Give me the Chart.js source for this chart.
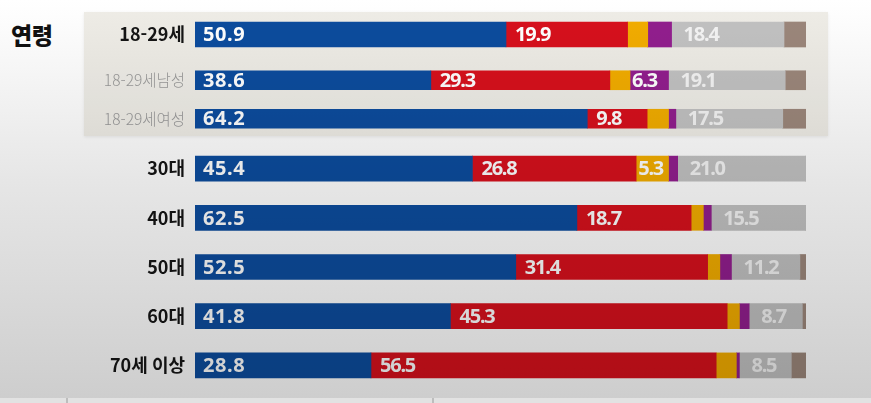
<!DOCTYPE html>
<html lang="ko">
<head>
<meta charset="utf-8">
<script src="https://cdn.jsdelivr.net/npm/chart.js@4.4.1/dist/chart.umd.min.js"></script>
<style>
  html, body { margin: 0; padding: 0; }
  body { width: 871px; height: 403px; overflow: hidden; position: relative; background: #ffffff; }
  #panel { position: absolute; left: 84px; top: 12px; width: 744px; height: 124px;
           background: #efede7; box-shadow: 0 1px 3px rgba(0,0,0,0.08); }
  #title { position: absolute; left: 11px; top: 17px; font-family: "Noto Sans CJK KR", sans-serif;
           font-weight: 900; font-size: 23px; color: #111; letter-spacing: -0.5px; }
  .wrap { position: absolute; left: 0; width: 871px; }
  #wA { top: 12px; height: 45px; } #wB { top: 61px; height: 77px; } #wC { top: 144px; height: 246px; }
  #strip { position: absolute; left: 0; top: 398px; width: 871px; height: 5px; background: #e2e2e2; }
  .sep { position: absolute; top: 398px; width: 2px; height: 5px; background: #bdbdbd; }
  #shade { position: absolute; left: 0; top: 0; width: 871px; height: 403px; pointer-events: none;
           background: linear-gradient(to bottom, #ffffff 0%, #fbfbfb 8%, #e6e6e6 45%, #cdcdcd 100%);
           mix-blend-mode: multiply; }
</style>
</head>
<body>
<div id="panel"></div>
<div id="title">연령</div>
<div class="wrap" id="wA"><canvas id="cA"></canvas></div>
<div class="wrap" id="wB"><canvas id="cB"></canvas></div>
<div class="wrap" id="wC"><canvas id="cC"></canvas></div>
<div id="shade"></div>
<div id="strip"></div>
<div class="sep" style="left:66px"></div>
<div class="sep" style="left:432px"></div>
<script>
// ---- data ----
const categories = ['18-29세', '18-29세남성', '18-29세여성', '30대', '40대', '50대', '60대', '70세 이상'];
const seriesNames = ['파랑', '빨강', '주황', '보라', '없음·모름', '기타'];
const blueValues   = [50.9, 38.6, 64.2, 45.4, 62.5, 52.5, 41.8, 28.8];
const redValues    = [19.9, 29.3,  9.8, 26.8, 18.7, 31.4, 45.3, 56.5];
const orangeValues = [ 3.3,  3.3,  3.5,  5.3,  2.0,  2.0,  2.0,  3.3];
const purpleValues = [ 3.9,  6.3,  1.2,  1.5,  1.3,  1.9,  1.6,  0.5];
const grayValues   = [18.4, 19.1, 17.5, 21.0, 15.5, 11.2,  8.7,  8.5];
const brownValues  = [ 3.6,  3.4,  3.8,  0.0,  0.0,  1.0,  0.6,  2.4];
const subLabelIdx  = [1, 2]; // the light grey sub-group labels

const allSeries = [blueValues, redValues, orangeValues, purpleValues, grayValues, brownValues];
const colors = ['#0c4c9e', '#d8101c', '#f3ad00', '#921e8e', '#c2c2c2', '#9c877b'];
const labelColors = ['#ffffff', '#ffffff', '#ffffff', '#ffffff', '#f4f4f4', null];
const labelPads = [8, 9, 3, 4, 12, 0];
const labelSpacing = ['0.6px', '-1.2px', '-1.2px', '-1.2px', '-1.2px', '0px'];

const valueLabels = {
  id: 'valueLabels',
  afterDatasetsDraw(chart) {
    const ctx = chart.ctx;
    chart.data.datasets.forEach((ds, di) => {
      if (!ds.labelColor) return;
      ctx.save();
      ctx.font = '700 20px "Noto Sans", sans-serif';
      ctx.textBaseline = 'middle';
      ctx.textAlign = 'left';
      if ('letterSpacing' in ctx) ctx.letterSpacing = ds.labelSpacing;
      const meta = chart.getDatasetMeta(di);
      meta.data.forEach((bar, i) => {
        const v = ds.data[i];
        if (v == null || v < 5) return;
        const p = bar.getProps(['x', 'y', 'base'], true);
        const left = Math.min(p.x, p.base);
        const w = Math.abs(p.x - p.base);
        const pad = w < 45 ? 2 : ds.labelPad;
        ctx.fillStyle = ds.labelColor;
        ctx.fillText(v.toFixed(1), left + pad, p.y + 1);
      });
      ctx.restore();
    });
  }
};

function makeChart(id, from, to, thickness) {
  const labels = categories.slice(from, to);
  const datasets = allSeries.map((arr, k) => ({
    label: seriesNames[k],
    data: arr.slice(from, to),
    backgroundColor: colors[k],
    borderWidth: 0,
    barThickness: thickness,
    labelColor: labelColors[k],
    labelPad: labelPads[k],
    labelSpacing: labelSpacing[k]
  }));
  return new Chart(document.getElementById(id), {
    type: 'bar',
    data: { labels, datasets },
    plugins: [valueLabels],
    options: {
      indexAxis: 'y',
      responsive: true,
      maintainAspectRatio: false,
      animation: false,
      layout: { padding: { left: 0, right: 65, top: 0, bottom: 0 } },
      plugins: { legend: { display: false }, tooltip: { enabled: false } },
      scales: {
        x: { stacked: true, min: 0, max: 100, display: false },
        y: {
          stacked: true,
          grid: { display: false, drawTicks: false },
          border: { display: false },
          afterFit: s => { s.width = 195; s.paddingTop = 0; s.paddingBottom = 0; },
          ticks: {
            padding: 10,
            color: c => subLabelIdx.includes(c.index + from) ? '#9a9a9a' : '#151515',
            font: c => subLabelIdx.includes(c.index + from)
              ? { family: '"Noto Sans CJK KR", sans-serif', size: 15.5, weight: '300' }
              : { family: '"Noto Sans CJK KR", sans-serif', size: 18, weight: '700' }
          }
        }
      }
    }
  });
}

makeChart('cA', 0, 1, 25);
makeChart('cB', 1, 3, 19);
makeChart('cC', 3, 8, 25);
</script>
</body>
</html>
